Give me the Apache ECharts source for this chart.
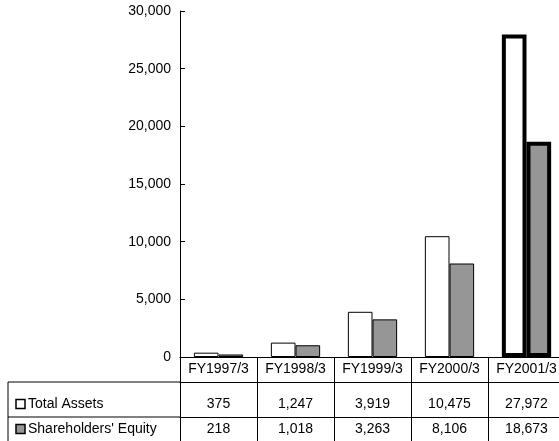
<!DOCTYPE html>
<html>
<head>
<meta charset="utf-8">
<script src="https://cdn.jsdelivr.net/npm/echarts@6/dist/echarts.min.js"></script>
<style>
  html, body { margin: 0; padding: 0; background: #fff; overflow: hidden; }
  #chart { width: 565px; height: 441px; }
</style>
</head>
<body>
<div id="chart"></div>
<script>
// Fiscal years and balance-sheet figures (millions of yen)
const categories = ['FY1997/3', 'FY1998/3', 'FY1999/3', 'FY2000/3', 'FY2001/3'];
const totalAssets = [375, 1247, 3919, 10475, 27972];
const shareholdersEquity = [218, 1018, 3263, 8106, 18673];
const yTicks = { min: 0, max: 30000, interval: 5000 };
const seriesNames = ['Total Assets', "Shareholders' Equity"];
const seriesFills = ['#fff', '#969696'];

const FONT = 'Liberation Sans, Arial, sans-serif';
const fmt = v => Number(v).toLocaleString('en-US');

// Plot area and data-table layout (the last column runs slightly past the page edge)
const GRID = { left: 180, top: 11, right: 0, height: 346 };
const axisY = GRID.top + GRID.height;   // 357
const row1Y = axisY + 25;               // line under category row
const row2Y = axisY + 60;               // line between the two value rows
const tableLeft = 8;
const tableBottom = 441;

// The latest year is drawn with a heavy outline
function styled(values, fill) {
  return values.map((v, i) => i === values.length - 1
    ? { value: v, itemStyle: { color: fill, borderColor: '#000', borderWidth: 4 } }
    : v);
}

const tableAxis = (data, offset, margin, withTicks) => ({
  type: 'category',
  data: data,
  position: 'bottom',
  offset: offset,
  axisLine: { show: true, lineStyle: { color: '#000', width: 1 } },
  axisTick: withTicks
    ? { show: true, length: tableBottom - axisY, lineStyle: { color: '#000', width: 1 } }
    : { show: false },
  axisLabel: { color: '#000', fontSize: 14, fontFamily: FONT, margin: margin, interval: 0 },
  splitLine: { show: false }
});

// Row headers of the data table: swatch + series name
function rowHeader(name, fill, centerY) {
  return [
    { type: 'rect', shape: { x: 16, y: centerY - 4.5, width: 9, height: 9 },
      style: { fill: fill, stroke: '#000', lineWidth: 1.5 } },
    { type: 'text', x: 28, y: centerY,
      style: { text: name, fill: '#000', font: '14px ' + FONT, textVerticalAlign: 'middle', verticalAlign: 'middle' } }
  ];
}

const chart = echarts.init(document.getElementById('chart'), null, { renderer: 'canvas' });

chart.setOption({
  animation: false,
  backgroundColor: '#fff',
  textStyle: { fontFamily: FONT },
  grid: GRID,
  xAxis: [
    tableAxis(categories, 0, 5, true),
    tableAxis(totalAssets.map(fmt), row1Y - axisY, 15, false),
    tableAxis(shareholdersEquity.map(fmt), row2Y - axisY, 5, false)
  ],
  yAxis: {
    type: 'value',
    min: yTicks.min,
    max: yTicks.max,
    interval: yTicks.interval,
    axisLine: { show: true, lineStyle: { color: '#000', width: 1 } },
    axisTick: { show: true, inside: true, length: 5, lineStyle: { color: '#000' } },
    axisLabel: { color: '#000', fontSize: 14, fontFamily: FONT, margin: 9, formatter: fmt },
    splitLine: { show: false }
  },
  series: [
    {
      name: seriesNames[0],
      type: 'bar',
      xAxisIndex: 0,
      data: styled(totalAssets, seriesFills[0]),
      barGap: '0%',
      barCategoryGap: '36%',
      itemStyle: { color: seriesFills[0], borderColor: '#000', borderWidth: 1 }
    },
    {
      name: seriesNames[1],
      type: 'bar',
      xAxisIndex: 0,
      data: styled(shareholdersEquity, seriesFills[1]),
      barGap: '0%',
      barCategoryGap: '36%',
      itemStyle: { color: seriesFills[1], borderColor: '#000', borderWidth: 1 }
    }
  ],
  graphic: [
    // frame of the row-label column of the data table
    { type: 'line', shape: { x1: tableLeft, y1: row1Y, x2: GRID.left, y2: row1Y }, style: { stroke: '#000', lineWidth: 1 } },
    { type: 'line', shape: { x1: tableLeft, y1: row2Y, x2: GRID.left, y2: row2Y }, style: { stroke: '#000', lineWidth: 1 } },
    { type: 'line', shape: { x1: tableLeft, y1: row1Y, x2: tableLeft, y2: tableBottom }, style: { stroke: '#000', lineWidth: 1 } },
    ...rowHeader(seriesNames[0], seriesFills[0], row1Y + 22),
    ...rowHeader(seriesNames[1], seriesFills[1], row2Y + 12)
  ]
});
</script>
</body>
</html>
